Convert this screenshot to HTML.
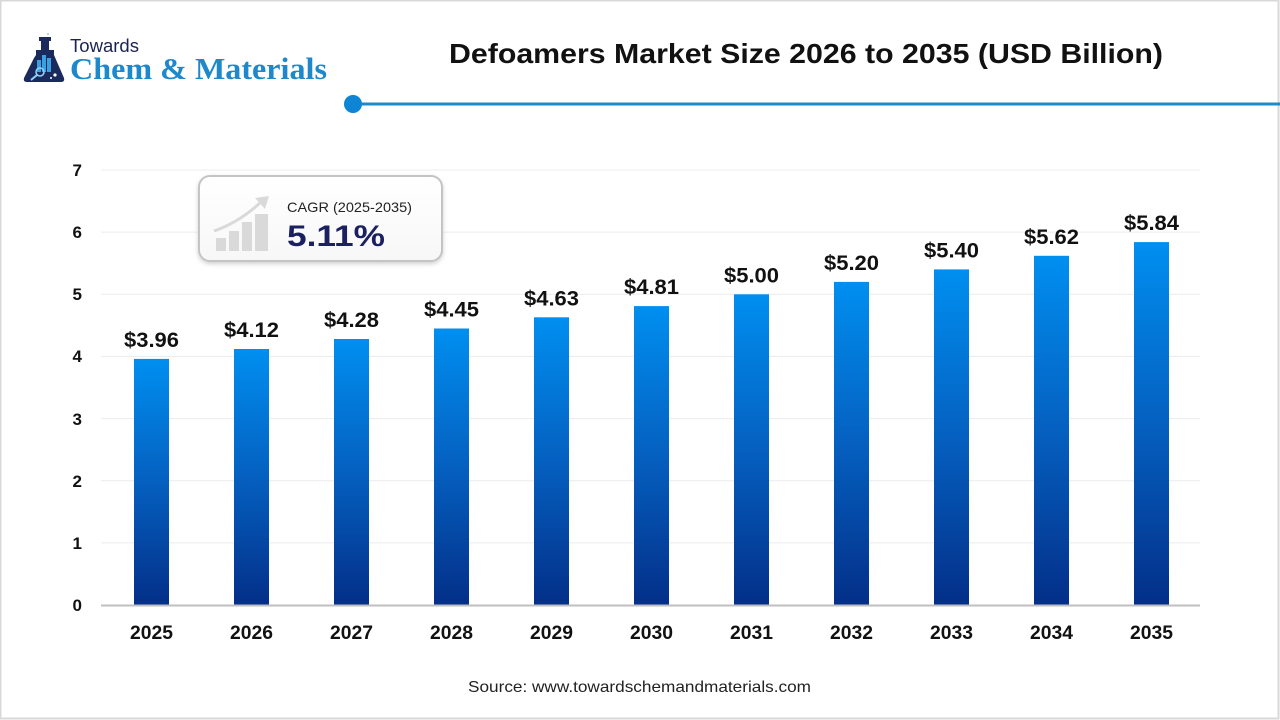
<!DOCTYPE html>
<html>
<head>
<meta charset="utf-8">
<style>
  html,body{margin:0;padding:0;background:#fff;}
  svg{display:block;}
  text{font-family:"Liberation Sans",Arial,sans-serif;}
</style>
</head>
<body>
<svg width="1280" height="720" viewBox="0 0 1280 720" xmlns="http://www.w3.org/2000/svg">
  <defs>
    <linearGradient id="bar" x1="0" y1="0" x2="0" y2="1">
      <stop offset="0" stop-color="#008ff0"/>
      <stop offset="0.5" stop-color="#0560c0"/>
      <stop offset="1" stop-color="#032f88"/>
    </linearGradient>
    <linearGradient id="boxg" x1="0" y1="0" x2="0" y2="1">
      <stop offset="0" stop-color="#ffffff"/>
      <stop offset="1" stop-color="#f7f7f7"/>
    </linearGradient>
    <filter id="sh" x="-10%" y="-10%" width="120%" height="130%">
      <feDropShadow dx="0" dy="2" stdDeviation="2" flood-color="#000" flood-opacity="0.18"/>
    </filter>
  </defs>

  <rect x="0" y="0" width="1280" height="720" fill="#fff"/>
  <rect x="0.5" y="0.5" width="1278" height="718" fill="none" stroke="#d8d8d8" stroke-width="2"/>

  <!-- Logo -->
  <g>
    <rect x="39" y="37" width="12" height="4" fill="#1b2a5c"/>
    <rect x="41" y="41" width="8" height="9" fill="#1b2a5c"/>
    <path d="M36 50 L54 50 L54 55 L64 78 Q65 82 61 82 L27 82 Q23 82 24 78 L34 58 L36 55 Z" fill="#1b2a5c"/>
    <rect x="37" y="60" width="4" height="12" fill="#3aa0e0"/>
    <rect x="42" y="55" width="4" height="17" fill="#3aa0e0"/>
    <rect x="47" y="58" width="4" height="14" fill="#3aa0e0"/>
    <circle cx="40" cy="72" r="4" fill="none" stroke="#8fd0f5" stroke-width="1.6"/>
    <line x1="37" y1="75" x2="31" y2="80" stroke="#8fd0f5" stroke-width="2"/>
    <circle cx="55" cy="75" r="1.6" fill="#fff"/>
    <circle cx="51" cy="78" r="1" fill="#fff"/>
    <circle cx="48" cy="34" r="1" fill="#9cc"/>
    <text x="70" y="52" font-size="18" fill="#1b2350" textLength="69" lengthAdjust="spacingAndGlyphs">Towards</text>
    <text x="70" y="79" font-size="31" font-weight="bold" fill="#1e88cc" style="font-family:'Liberation Serif',serif" textLength="257" lengthAdjust="spacingAndGlyphs">Chem &amp; Materials</text>
  </g>

  <!-- Title -->
  <text x="806" y="63" text-anchor="middle" font-size="28" font-weight="bold" fill="#111" textLength="714" lengthAdjust="spacingAndGlyphs">Defoamers Market Size 2026 to 2035 (USD Billion)</text>

  <!-- Divider -->
  <line x1="353" y1="104" x2="1280" y2="104" stroke="#1e8bc8" stroke-width="3"/>
  <circle cx="353" cy="104" r="9" fill="#0d84d4"/>

  <!-- Gridlines -->
  <g stroke="#ececec" stroke-width="1">
    <line x1="101" y1="170" x2="1200" y2="170"/>
    <line x1="101" y1="232.1" x2="1200" y2="232.1"/>
    <line x1="101" y1="294.3" x2="1200" y2="294.3"/>
    <line x1="101" y1="356.4" x2="1200" y2="356.4"/>
    <line x1="101" y1="418.6" x2="1200" y2="418.6"/>
    <line x1="101" y1="480.7" x2="1200" y2="480.7"/>
    <line x1="101" y1="542.9" x2="1200" y2="542.9"/>
  </g>

  <!-- Y ticks -->
  <g font-size="17" font-weight="bold" fill="#111" text-anchor="end">
    <text x="82" y="611">0</text>
    <text x="82" y="549">1</text>
    <text x="82" y="487">2</text>
    <text x="82" y="425">3</text>
    <text x="82" y="362">4</text>
    <text x="82" y="300">5</text>
    <text x="82" y="238">6</text>
    <text x="82" y="176">7</text>
  </g>

  <!-- Bars -->
  <g fill="url(#bar)">
    <rect x="134" y="358.9" width="35" height="246.1"/>
    <rect x="234" y="349.0" width="35" height="256.0"/>
    <rect x="334" y="339.0" width="35" height="266.0"/>
    <rect x="434" y="328.5" width="35" height="276.5"/>
    <rect x="534" y="317.3" width="35" height="287.7"/>
    <rect x="634" y="306.1" width="35" height="298.9"/>
    <rect x="734" y="294.3" width="35" height="310.7"/>
    <rect x="834" y="281.9" width="35" height="323.1"/>
    <rect x="934" y="269.4" width="35" height="335.6"/>
    <rect x="1034" y="255.8" width="35" height="349.2"/>
    <rect x="1134" y="242.1" width="35" height="362.9"/>
  </g>

  <!-- Axis -->
  <line x1="101" y1="605.5" x2="1200" y2="605.5" stroke="#bfbfbf" stroke-width="2"/>

  <!-- Value labels -->
  <g font-size="21" font-weight="bold" fill="#111" text-anchor="middle">
    <text x="151.5" y="347" textLength="55" lengthAdjust="spacingAndGlyphs">$3.96</text>
    <text x="251.5" y="337" textLength="55" lengthAdjust="spacingAndGlyphs">$4.12</text>
    <text x="351.5" y="327" textLength="55" lengthAdjust="spacingAndGlyphs">$4.28</text>
    <text x="451.5" y="316.5" textLength="55" lengthAdjust="spacingAndGlyphs">$4.45</text>
    <text x="551.5" y="305.3" textLength="55" lengthAdjust="spacingAndGlyphs">$4.63</text>
    <text x="651.5" y="294.1" textLength="55" lengthAdjust="spacingAndGlyphs">$4.81</text>
    <text x="751.5" y="282.3" textLength="55" lengthAdjust="spacingAndGlyphs">$5.00</text>
    <text x="851.5" y="269.9" textLength="55" lengthAdjust="spacingAndGlyphs">$5.20</text>
    <text x="951.5" y="257.4" textLength="55" lengthAdjust="spacingAndGlyphs">$5.40</text>
    <text x="1051.5" y="243.8" textLength="55" lengthAdjust="spacingAndGlyphs">$5.62</text>
    <text x="1151.5" y="230.1" textLength="55" lengthAdjust="spacingAndGlyphs">$5.84</text>
  </g>

  <!-- X labels -->
  <g font-size="19" font-weight="bold" fill="#111" text-anchor="middle">
    <text x="151.5" y="639" textLength="43" lengthAdjust="spacingAndGlyphs">2025</text>
    <text x="251.5" y="639" textLength="43" lengthAdjust="spacingAndGlyphs">2026</text>
    <text x="351.5" y="639" textLength="43" lengthAdjust="spacingAndGlyphs">2027</text>
    <text x="451.5" y="639" textLength="43" lengthAdjust="spacingAndGlyphs">2028</text>
    <text x="551.5" y="639" textLength="43" lengthAdjust="spacingAndGlyphs">2029</text>
    <text x="651.5" y="639" textLength="43" lengthAdjust="spacingAndGlyphs">2030</text>
    <text x="751.5" y="639" textLength="43" lengthAdjust="spacingAndGlyphs">2031</text>
    <text x="851.5" y="639" textLength="43" lengthAdjust="spacingAndGlyphs">2032</text>
    <text x="951.5" y="639" textLength="43" lengthAdjust="spacingAndGlyphs">2033</text>
    <text x="1051.5" y="639" textLength="43" lengthAdjust="spacingAndGlyphs">2034</text>
    <text x="1151.5" y="639" textLength="43" lengthAdjust="spacingAndGlyphs">2035</text>
  </g>

  <!-- CAGR box -->
  <g>
    <rect x="199" y="176" width="243" height="85" rx="11" ry="11" fill="url(#boxg)" stroke="#c4c4c4" stroke-width="2" filter="url(#sh)"/>
    <g fill="#d9d9d9">
      <rect x="216" y="238" width="10" height="13"/>
      <rect x="229" y="231" width="10" height="20"/>
      <rect x="242" y="222" width="10" height="29"/>
      <rect x="255" y="214" width="13" height="37"/>
    </g>
    <path d="M214 231 Q240 222 262 201" fill="none" stroke="#d9d9d9" stroke-width="3"/>
    <path d="M255 198 L269 196 L265 209 Z" fill="#d9d9d9"/>
    <text x="287" y="212" font-size="14" fill="#222" textLength="125" lengthAdjust="spacingAndGlyphs">CAGR (2025-2035)</text>
    <text x="287" y="246" font-size="30" font-weight="bold" fill="#1b2061" textLength="98" lengthAdjust="spacingAndGlyphs">5.11%</text>
  </g>

  <!-- Source -->
  <text x="468" y="692" font-size="16" fill="#222" textLength="343" lengthAdjust="spacingAndGlyphs">Source: www.towardschemandmaterials.com</text>
</svg>
</body>
</html>
